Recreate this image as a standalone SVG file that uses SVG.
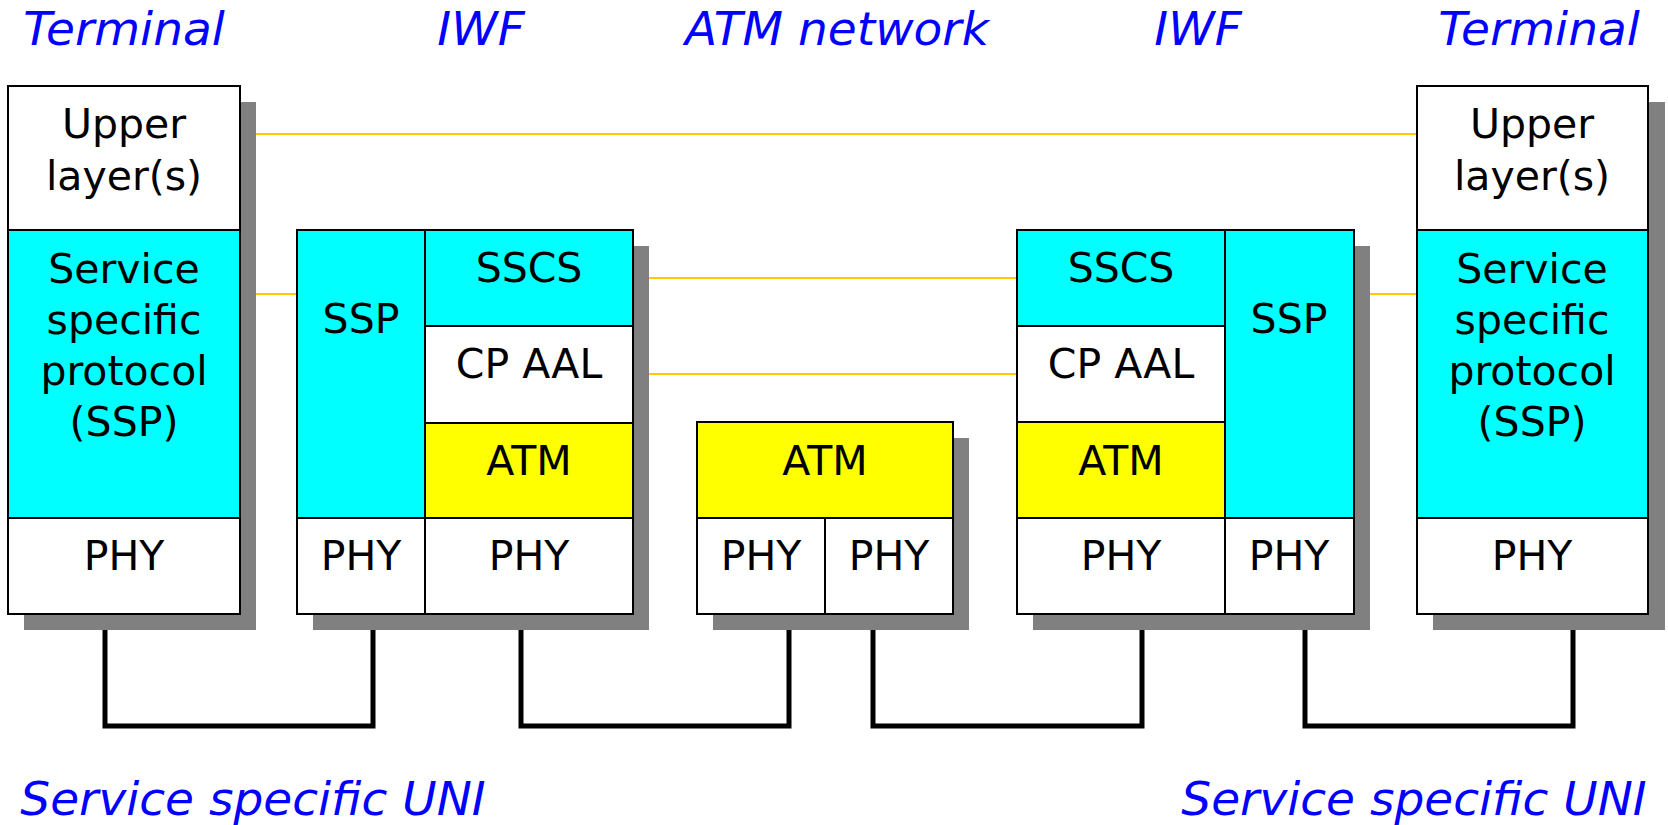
<svg xmlns="http://www.w3.org/2000/svg" width="1668" height="825" viewBox="0 0 1668 825">
<style>
.sh{fill:#808080;stroke:none}
.cell{stroke:#000;stroke-width:2}
.w{fill:#fff}
.c{fill:#00ffff}
.y{fill:#ffff00}
.t{font-family:"DejaVu Sans","Liberation Sans",sans-serif;font-size:41px;fill:#000;text-anchor:middle}
.lbl{font-family:"DejaVu Sans","Liberation Sans",sans-serif;font-style:oblique;font-size:47px;fill:#0000ff;text-anchor:middle}
.peer{stroke:#ffc800;stroke-width:2;fill:none}
.link{stroke:#000;stroke-width:5;fill:none;stroke-linejoin:miter}
</style>
<rect width="1668" height="825" fill="#fff"/>

<g id="labels">
<text class="lbl" x="124" y="45">Terminal</text>
<text class="lbl" x="481" y="45">IWF</text>
<text class="lbl" x="837" y="45">ATM network</text>
<text class="lbl" x="1198" y="45">IWF</text>
<text class="lbl" x="1539" y="45">Terminal</text>
<text class="lbl" x="253" y="815">Service specific UNI</text>
<text class="lbl" x="1414" y="815">Service specific UNI</text>
</g>

<g id="connectors">
<line class="peer" x1="256" y1="134" x2="1417" y2="134"/>
<line class="peer" x1="256" y1="294" x2="297" y2="294"/>
<line class="peer" x1="1370" y1="294" x2="1417" y2="294"/>
<line class="peer" x1="649" y1="278" x2="1017" y2="278"/>
<line class="peer" x1="649" y1="374" x2="1017" y2="374"/>
<path class="link" d="M105 630 V726 H373 V630"/>
<path class="link" d="M521 630 V726 H789 V630"/>
<path class="link" d="M873 630 V726 H1142 V630"/>
<path class="link" d="M1305 630 V726 H1573 V630"/>
</g>

<g id="terminal-left">
<rect class="sh" x="24" y="102" width="232" height="528"/>
<rect class="cell w" x="8" y="86" width="232" height="144"/>
<rect class="cell c" x="8" y="230" width="232" height="288"/>
<rect class="cell w" x="8" y="518" width="232" height="96"/>
<text class="t" x="124" y="138">Upper</text>
<text class="t" x="124" y="190">layer(s)</text>
<text class="t" x="124" y="283">Service</text>
<text class="t" x="124" y="334">specific</text>
<text class="t" x="124" y="385">protocol</text>
<text class="t" x="124" y="436">(SSP)</text>
<text class="t" x="124" y="570">PHY</text>
</g>

<g id="iwf-left">
<rect class="sh" x="313" y="246" width="336" height="384"/>
<rect class="cell c" x="297" y="230" width="128" height="288"/>
<rect class="cell c" x="425" y="230" width="208" height="96"/>
<rect class="cell w" x="425" y="326" width="208" height="97"/>
<rect class="cell y" x="425" y="423" width="208" height="95"/>
<rect class="cell w" x="297" y="518" width="128" height="96"/>
<rect class="cell w" x="425" y="518" width="208" height="96"/>
<text class="t" x="361" y="333">SSP</text>
<text class="t" x="529" y="282">SSCS</text>
<text class="t" x="529" y="378">CP AAL</text>
<text class="t" x="529" y="475">ATM</text>
<text class="t" x="361" y="570">PHY</text>
<text class="t" x="529" y="570">PHY</text>
</g>

<g id="atm-network">
<rect class="sh" x="713" y="438" width="256" height="192"/>
<rect class="cell y" x="697" y="422" width="256" height="96"/>
<rect class="cell w" x="697" y="518" width="128" height="96"/>
<rect class="cell w" x="825" y="518" width="128" height="96"/>
<text class="t" x="825" y="475">ATM</text>
<text class="t" x="761" y="570">PHY</text>
<text class="t" x="889" y="570">PHY</text>
</g>

<g id="iwf-right">
<rect class="sh" x="1033" y="246" width="337" height="384"/>
<rect class="cell c" x="1017" y="230" width="208" height="96"/>
<rect class="cell w" x="1017" y="326" width="208" height="96"/>
<rect class="cell y" x="1017" y="422" width="208" height="96"/>
<rect class="cell c" x="1225" y="230" width="129" height="288"/>
<rect class="cell w" x="1017" y="518" width="208" height="96"/>
<rect class="cell w" x="1225" y="518" width="129" height="96"/>
<text class="t" x="1121" y="282">SSCS</text>
<text class="t" x="1121" y="378">CP AAL</text>
<text class="t" x="1121" y="475">ATM</text>
<text class="t" x="1289" y="333">SSP</text>
<text class="t" x="1121" y="570">PHY</text>
<text class="t" x="1289" y="570">PHY</text>
</g>

<g id="terminal-right">
<rect class="sh" x="1433" y="102" width="232" height="528"/>
<rect class="cell w" x="1417" y="86" width="231" height="144"/>
<rect class="cell c" x="1417" y="230" width="231" height="288"/>
<rect class="cell w" x="1417" y="518" width="231" height="96"/>
<text class="t" x="1532" y="138">Upper</text>
<text class="t" x="1532" y="190">layer(s)</text>
<text class="t" x="1532" y="283">Service</text>
<text class="t" x="1532" y="334">specific</text>
<text class="t" x="1532" y="385">protocol</text>
<text class="t" x="1532" y="436">(SSP)</text>
<text class="t" x="1532" y="570">PHY</text>
</g>
</svg>
